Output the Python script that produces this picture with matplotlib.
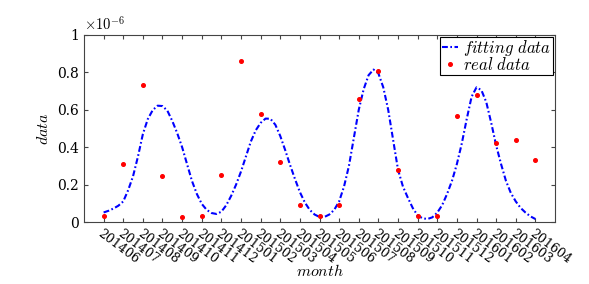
import matplotlib
matplotlib.use('Agg')
import matplotlib.pyplot as plt
import numpy as np
from matplotlib.ticker import FuncFormatter

plt.rcParams['mathtext.fontset'] = 'cm'
plt.rcParams['font.family'] = 'DejaVu Serif'

# month labels (x positions 1..23)
months = ['201406', '201407', '201408', '201409', '201410', '201411', '201412',
          '201501', '201502', '201503', '201504', '201505', '201506', '201507',
          '201508', '201509', '201510', '201511', '201512', '201601', '201602',
          '201603', '201604']

# real data, units of 1e-6
real_vals = [0.03, 0.31, 0.73, 0.245, 0.025, 0.03, 0.25, 0.86, 0.575, 0.32,
             0.09, 0.03, 0.09, 0.66, 0.81, 0.28, 0.03, 0.03, 0.565, 0.68,
             0.42, 0.44, 0.33]

# fitted curve every quarter month (1 .. 23), units of 1e-6
fit_x = np.arange(1, 23.01, 0.25)
fit_y = [0.051, 0.060, 0.072, 0.087, 0.110, 0.170, 0.245, 0.350, 0.470, 0.550,
         0.598, 0.622, 0.620, 0.595, 0.540, 0.475, 0.400, 0.310, 0.220, 0.150,
         0.097, 0.065, 0.048, 0.043,
         0.055, 0.090, 0.140, 0.200, 0.270, 0.350, 0.430, 0.490, 0.530, 0.553,
         0.552, 0.520, 0.460, 0.385, 0.305, 0.230, 0.160, 0.105, 0.065, 0.040,
         0.027,
         0.027, 0.040, 0.065, 0.110, 0.190, 0.300, 0.450, 0.600, 0.710, 0.785,
         0.815, 0.795, 0.720, 0.600, 0.440, 0.280, 0.190, 0.130, 0.075, 0.035,
         0.020, 0.016, 0.025,
         0.050, 0.090, 0.150, 0.220, 0.310, 0.420, 0.550, 0.670, 0.720, 0.705,
         0.640, 0.530, 0.410, 0.310, 0.220, 0.155, 0.110, 0.075, 0.050, 0.030,
         0.016]

x = np.arange(1, len(months) + 1)

fig = plt.figure(figsize=(5.89, 2.84), dpi=100)
ax = fig.add_axes([0.1426, 0.2183, 0.7997, 0.6585])

ax.plot(fit_x, fit_y, color='blue', linestyle=(0, (2.8, 1.2, 0.8, 1.2)),
        linewidth=1.5, label=r'$fitting\ data$')
ax.plot(x, real_vals, linestyle='none', marker='o', markersize=2.6,
        color='red', label=r'$real\ data$')

ax.set_xlim(0, 24)
ax.set_ylim(0, 1)
ax.set_xticks(x)
ax.set_xticklabels(months, rotation=-37, ha='left', va='top',
                   rotation_mode='anchor', fontsize=9)
ax.set_yticks([0, 0.2, 0.4, 0.6, 0.8, 1])
ax.yaxis.set_major_formatter(FuncFormatter(lambda v, p: '%g' % v))
ax.tick_params(axis='y', labelsize=10)
ax.tick_params(direction='in', top=True, right=True, length=3, color='#444444')
for s in ax.spines.values():
    s.set_color('#444444')

ax.text(0.0, 1.01, r'$\times10^{-6}$', transform=ax.transAxes, fontsize=10.5,
        ha='left', va='bottom')

ax.set_ylabel(r'$data$', fontsize=11.5, labelpad=4)
ax.set_xlabel(r'$month$', fontsize=11.5, labelpad=-2)

leg = ax.legend(loc='upper right', fontsize=12, handlelength=1.0,
                handletextpad=0.3, borderaxespad=0.1, borderpad=0.1,
                labelspacing=-0.1, fancybox=False, framealpha=1)
leg.get_frame().set_edgecolor('black')
leg.get_frame().set_linewidth(0.8)

fig.savefig('out.png', dpi=100)
